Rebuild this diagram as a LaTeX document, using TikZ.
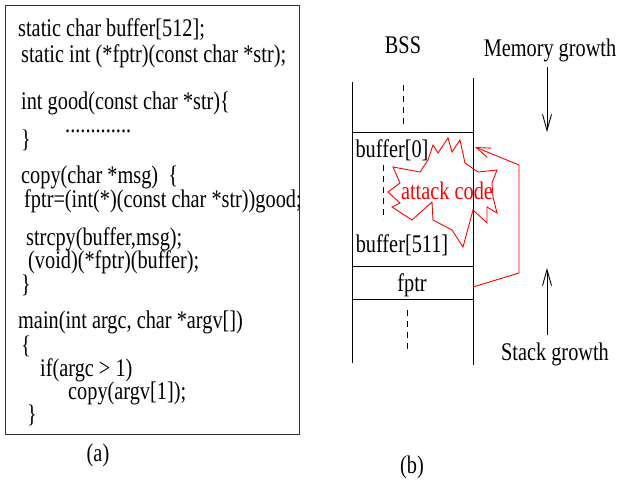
\documentclass[tikz,border=0pt]{standalone}
\usepackage{fontspec}
\setmainfont{Liberation Serif}
\usetikzlibrary{arrows.meta}
\newcommand{\stt}[1]{\scalebox{1}[1.25]{#1}}
\begin{document}
\begin{tikzpicture}[x=1pt,y=-1pt,
  txt/.style={inner sep=0pt, font=\fontsize{20.3}{24}\selectfont},
  code/.style={txt, anchor=west},
  codeframe/.style={line width=0.9pt, black!80},
  wall/.style={line width=0.9pt, black},
  dsh/.style={line width=0.9pt, dash pattern=on 6pt off 5pt},
  growarrow/.style={line width=0.9pt, -{Straight Barb[length=16pt,width=9pt]}},
  atk/.style={line width=0.9pt, red},
  atkarrow/.style={atk, -{Straight Barb[length=14pt,width=10pt]}}
]
\fill[white] (0,0) rectangle (618,483);
\path[use as bounding box] (0,0) rectangle (618,483);

% ---------- (a) code box ----------
\draw[codeframe] (5,5) rectangle (299,434);
\node[code] (l1) at (18,30) {\stt{static char buffer[512];}};
\node[code] (l2) at (21,56) {\stt{static int (*fptr)(const char *str);}};
\node[code] (l3) at (21,103) {\stt{int good(const char *str)\{}};
\node[code, anchor=base west] (l4) at (65,132) {\stt{.............}};
\node[code] (l5) at (21,140) {\stt{\}}};
\node[code] (l6) at (21,177) {\stt{copy(char *msg)\ \ \{}};
\node[code] (l7) at (24,201) {\stt{fptr=(int(*)(const char *str))good;}};
\node[code] (l8) at (26,239) {\stt{strcpy(buffer,msg);}};
\node[code] (l9) at (28,262) {\stt{(void)(*fptr)(buffer);}};
\node[code] (l10) at (21,285) {\stt{\}}};
\node[code] (l11) at (18,322) {\stt{main(int argc, char *argv[])}};
\node[code] (l12) at (21,346) {\stt{\{}};
\node[code] (l13) at (40,370) {\stt{if(argc > 1)}};
\node[code] (l14) at (68,393) {\stt{copy(argv[1]);}};
\node[code] (l15) at (27,415) {\stt{\}}};
\node[txt] (capa) at (98,455) {\stt{(a)}};

% ---------- (b) memory layout ----------
\node[txt] (bss) at (403,45) {\stt{BSS}};
\node[txt] (memg) at (550,50) {\stt{Memory growth}};
\node[txt] (stkg) at (555,354) {\stt{Stack growth}};
\node[txt] (capb) at (412,467) {\stt{(b)}};

\draw[wall] (352,82) -- (352,363);
\draw[wall] (473,78) -- (473,365);
\draw[wall] (352,132) -- (473,132);
\draw[wall] (352,266) -- (473,266);
\draw[wall] (352,299) -- (473,299);

\draw[dsh] (403,85) -- (403,127);
\draw[dsh] (383,165) -- (383,220);
\draw[dsh] (407,310) -- (407,350);

% starburst
\draw[atk] (428,160) -- (433,145) -- (438,153) -- (448,138) -- (452,152)
  -- (460,140) -- (465,163) -- (478,172) -- (497,170) -- (492,183)
  -- (493,197) -- (497,213) -- (487,207) -- (487,223) -- (473,210)
  -- (463,247) -- (452,230) -- (433,220) -- (432,202) -- (412,220)
  -- (392,207) -- (400,203) -- (388,192) -- (400,183) -- (393,167)
  -- (420,172) -- cycle;

\node[txt] (b0) at (392,150) {\stt{buffer[0]}};
\node[txt] (b511) at (402,245) {\stt{buffer[511]}};
\node[txt] (fptr) at (412,285) {\stt{fptr}};
\node[txt, text=red] (atxt) at (447,191) {\stt{attack code}};

\coordinate (fptrR) at (473,287);
\coordinate (bendlo) at (519,273);
\coordinate (bendhi) at (519,165);
\coordinate (b0R) at (475,147);
\draw[atkarrow] (fptrR) -- (bendlo) -- (bendhi) -- (b0R);

\coordinate (mgtop) at (547,67);
\coordinate (mgbot) at (547,132);
\draw[growarrow] (mgtop) -- (mgbot);
\coordinate (sgbot) at (547,335);
\coordinate (sgtop) at (547,268);
\draw[growarrow] (sgbot) -- (sgtop);
\end{tikzpicture}
\end{document}
